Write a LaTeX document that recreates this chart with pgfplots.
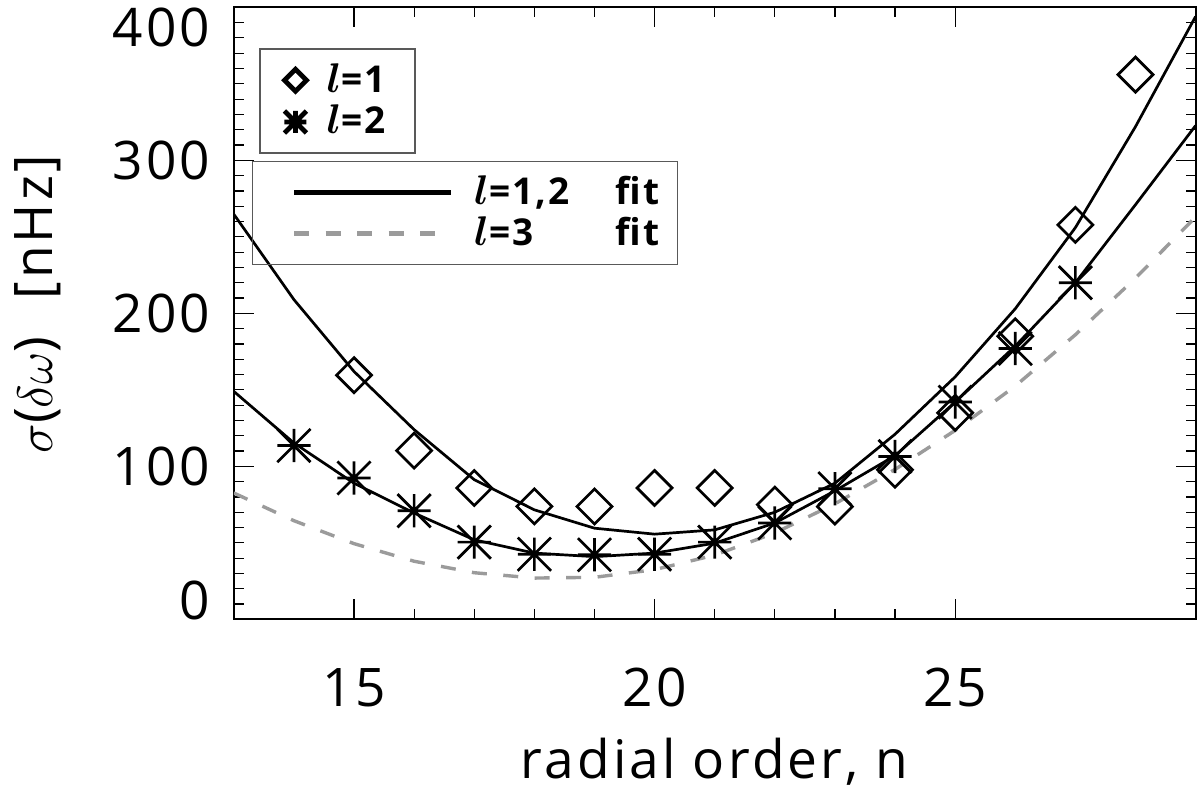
\documentclass[border=0pt]{standalone}
\usepackage{amsmath}
\usepackage{fontspec}
\setmainfont{Open Sans}[LetterSpace=6]
\usepackage{pgfplots}
\pgfplotsset{compat=1.18}
\definecolor{dgray}{RGB}{155,155,155}
\newcommand{\tickfont}{\fontsize{26.6pt}{30pt}\selectfont}
\newcommand{\legfont}{\fontsize{18.5pt}{20pt}\selectfont\bfseries}
\newcommand{\ytl}[2]{\smash{\raisebox{#1}{#2}}}
\newcommand{\legl}{\mbox{\fontsize{21pt}{22pt}\selectfont$\boldsymbol{l}$}}
\pgfdeclareplotmark{idldiamond}{%
  \pgfpathmoveto{\pgfqpoint{\pgfplotmarksize}{0pt}}%
  \pgfpathlineto{\pgfqpoint{0pt}{\pgfplotmarksize}}%
  \pgfpathlineto{\pgfqpoint{-\pgfplotmarksize}{0pt}}%
  \pgfpathlineto{\pgfqpoint{0pt}{-\pgfplotmarksize}}%
  \pgfpathclose
  \pgfusepathqstroke}
\pgfdeclareplotmark{idlstar}{%
  \pgfpathmoveto{\pgfqpoint{-\pgfplotmarksize}{0pt}}\pgfpathlineto{\pgfqpoint{\pgfplotmarksize}{0pt}}%
  \pgfpathmoveto{\pgfqpoint{0pt}{-\pgfplotmarksize}}\pgfpathlineto{\pgfqpoint{0pt}{\pgfplotmarksize}}%
  \pgfpathmoveto{\pgfqpoint{-\pgfplotmarksize}{-\pgfplotmarksize}}\pgfpathlineto{\pgfqpoint{\pgfplotmarksize}{\pgfplotmarksize}}%
  \pgfpathmoveto{\pgfqpoint{-\pgfplotmarksize}{\pgfplotmarksize}}\pgfpathlineto{\pgfqpoint{\pgfplotmarksize}{-\pgfplotmarksize}}%
  \pgfusepathqstroke}
\begin{document}
\begin{tikzpicture}
\begin{axis}[
  width=480.9pt, height=306.05pt, scale only axis,
  xmin=13, xmax=29, ymin=0, ymax=400,
  xtick={15,20,25}, xticklabels={15,20,25},
  ytick={0,100,200,300,400},
  yticklabels={\ytl{0pt}{0},\ytl{-9.5pt}{100},\ytl{-9.5pt}{200},\ytl{-9.5pt}{300},\ytl{-19.6pt}{400}},
  minor x tick num=4, minor y tick num=9,
  major tick length=10pt, minor tick length=5pt,
  tick align=inside, tick pos=both,
  tick label style={font=\tickfont, inner sep=0pt},
  xticklabel style={yshift=-24.3pt},
  yticklabel style={xshift=-11.5pt},
  axis line style={line width=1pt},
  tick style={black, line width=0.6pt},
  xlabel={radial order, n},
  ylabel={$\sigma$($\delta\omega$)\hspace{0.7em}[nHz]},
  label style={font=\tickfont},
  xlabel style={at={(axis description cs:0.5,-0.2607)}, anchor=base},
  ylabel style={at={(axis description cs:-0.188,0.515)}, anchor=base},
  legend cell align=left,
  legend style={at={(0,1)}, anchor=north west, xshift=8.95pt, yshift=-76.7pt,
    draw=black!65, line width=0.8pt, fill=none,
    inner xsep=9.15pt, inner ysep=8.4pt, row sep=6.8pt, column sep=0pt,
    nodes={inner sep=0pt, text height=13pt, text depth=1pt, font=\legfont}},
  legend image code/.code={\path (0pt,0pt) (100pt,0pt); \draw[#1, line width=2.5pt] (10.85pt,0pt) -- (89.15pt,0pt);},
]
\addplot[black, line width=1.35pt, line join=round] coordinates {
(13,264.8) (14,209) (15,162) (16,124) (17,91.3) (18,71.6) (19,59.6) (20,55.7)
(21,58.5) (22,70) (23,89) (24,121) (25,158.5) (26,203) (27,256) (28,322) (29,394)};
\addlegendentry{\makebox[92.5pt][l]{\legl=1,2\hfill fit}}
\addplot[black, line width=1.35pt, line join=round, forget plot] coordinates {
(13,149) (14,115.3) (15,89) (16,69.5) (17,52) (18,43.3) (19,41) (20,43.3)
(21,49.8) (22,63) (23,84) (24,107) (25,142) (26,178.6) (27,220) (28,271) (29,322.7)};
\addplot[dgray, line width=1.7pt, dash pattern=on 7.5pt off 8.25pt] coordinates {
(13,82.6) (14,64.5) (15,49.5) (16,38) (17,30.5) (18,27) (19,27.5) (20,32.5)
(21,42) (22,56.5) (23,75.5) (24,98) (25,123.5) (26,152.5) (27,186) (28,223) (29,263)};
\addlegendentry{\makebox[92.5pt][l]{\legl=3\hfill fit}}
\end{axis}
\begin{axis}[
  width=480.9pt, height=306.05pt, scale only axis,
  xmin=13, xmax=29, ymin=0, ymax=400, hide axis,
  legend cell align=left,
  legend style={at={(0,1)}, anchor=north west, xshift=12.75pt, yshift=-20.5pt,
    draw=black!65, line width=0.8pt, fill=none,
    inner xsep=6pt, inner ysep=8.6pt, row sep=6.85pt, column sep=3.85pt,
    nodes={inner sep=0pt, text height=13pt, text depth=1pt, font=\legfont}},
  legend image code/.code={\path (0pt,0pt) (22pt,0pt); \draw[#1, line width=2.4pt, mark size=5.5pt] plot coordinates {(11pt,0pt)};},
]
\addplot[black, only marks, mark=idldiamond, mark size=8.75pt, line width=1.35pt] coordinates {
(15,159.6) (16,110.3) (17,85.9) (18,73.8) (19,73.8) (20,85.9) (21,85.9)
(22,75) (23,73.7) (24,97.8) (25,135) (26,185) (27,257.8) (28,356)};
\addlegendentry{\makebox[38.35pt][l]{\legl=1}}
\addplot[black, only marks, mark=idlstar, mark size=8.3pt, line width=1.35pt] coordinates {
(14,113.6) (15,92.4) (16,71) (17,50.5) (18,42.6) (19,42.2) (20,42.6) (21,50.5)
(22,63) (23,85.4) (24,106.5) (25,142) (26,177) (27,220)};
\addlegendentry{\makebox[38.35pt][l]{\legl=2}}
\end{axis}
\pgfresetboundingbox
\path[use as bounding box] (-116.9pt,-85.3pt) rectangle (483.1pt,309.7pt);
\end{tikzpicture}
\end{document}
